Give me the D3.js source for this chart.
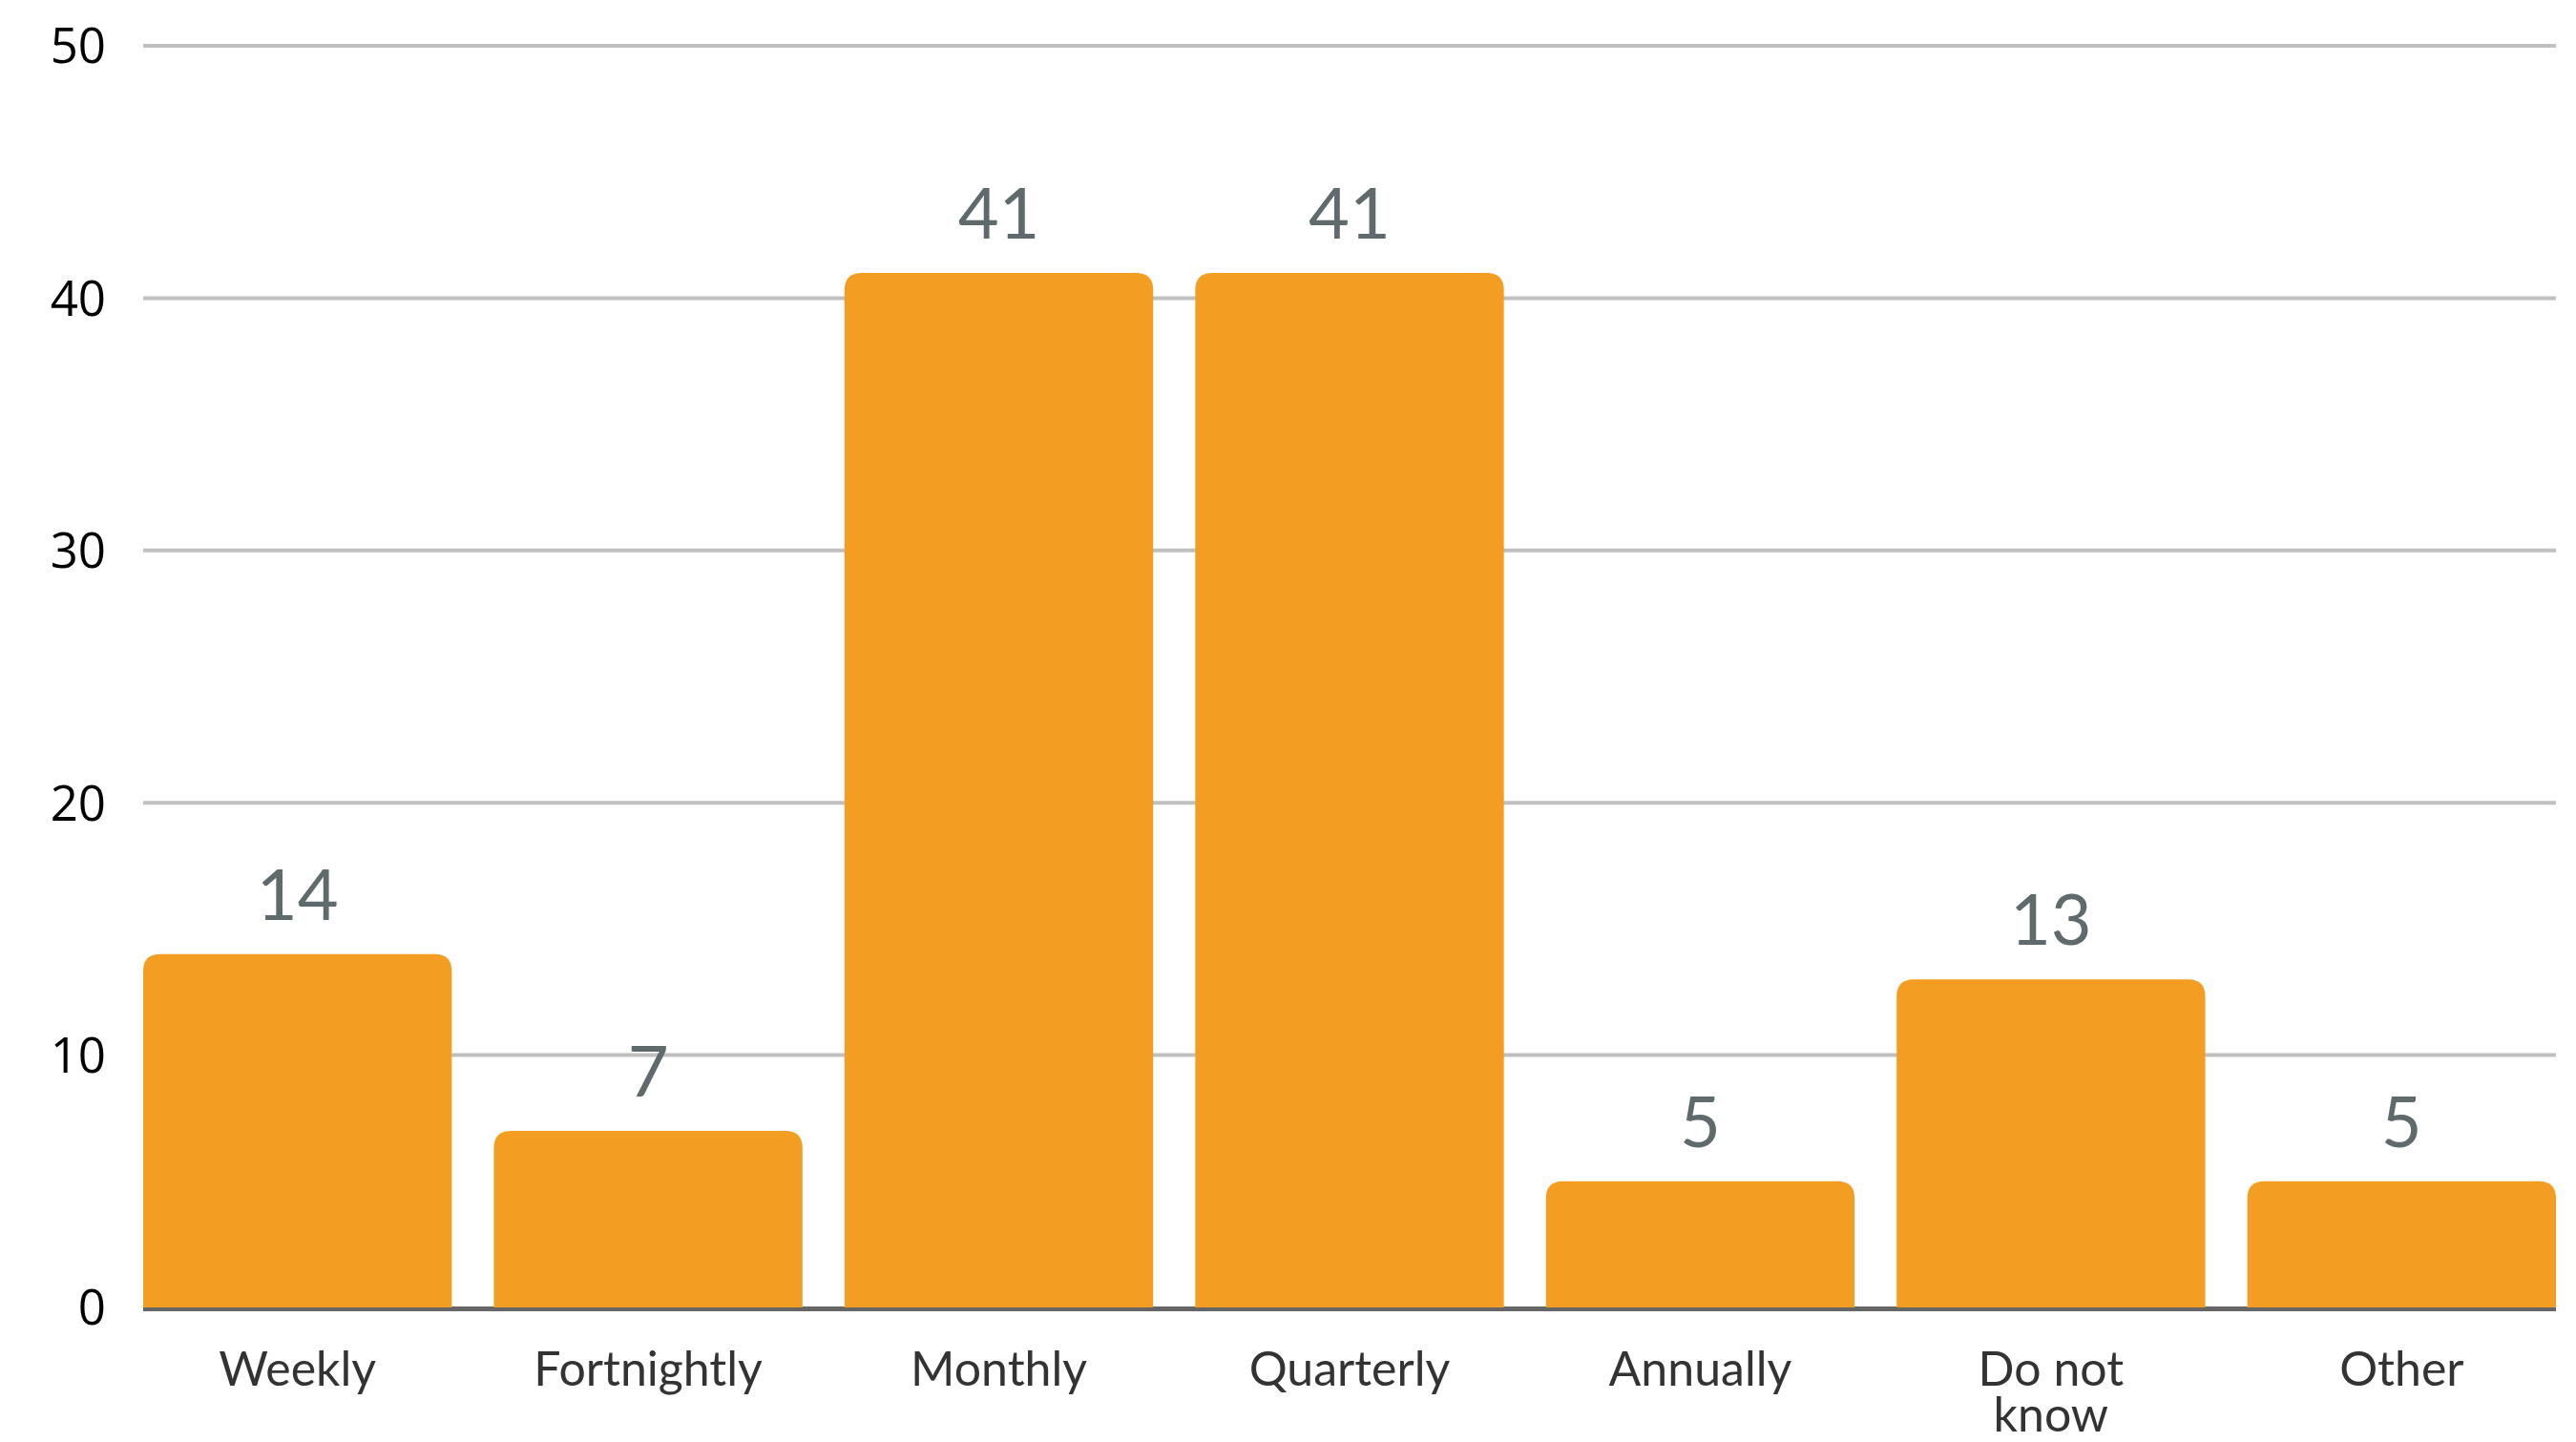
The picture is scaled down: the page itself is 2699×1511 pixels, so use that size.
<!DOCTYPE html>
<html>
<head>
<meta charset="utf-8">
<script src="https://cdn.jsdelivr.net/npm/d3@7"></script>
<style>
  html, body { margin: 0; padding: 0; background: #fff; }
  svg { display: block; }
</style>
</head>
<body>
<svg id="chart" width="2699" height="1511"></svg>
<script>
const categories = ["Weekly", "Fortnightly", "Monthly", "Quarterly", "Annually", "Do not know", "Other"];
const values = [14, 7, 41, 41, 5, 13, 5];
const yTicks = [0, 10, 20, 30, 40, 50];

const W = 2699, H = 1511;
const margin = { top: 48, right: 21, bottom: 141, left: 150 };
const svg = d3.select("#chart");

const x = d3.scaleBand()
  .domain(categories)
  .range([margin.left, W - margin.right])
  .paddingInner(0.12)
  .paddingOuter(0);

const y = d3.scaleLinear()
  .domain([0, 50])
  .range([H - margin.bottom, margin.top]);

// gridlines
svg.append("g")
  .selectAll("line")
  .data(yTicks.filter(d => d > 0))
  .join("line")
  .attr("x1", margin.left)
  .attr("x2", W - margin.right)
  .attr("y1", d => y(d))
  .attr("y2", d => y(d))
  .attr("stroke", "#c0c0c0")
  .attr("stroke-width", 4);

// y tick labels
svg.append("g")
  .selectAll("text")
  .data(yTicks)
  .join("text")
  .attr("x", 111)
  .attr("y", d => y(d))
  .attr("dy", "0.36em")
  .attr("text-anchor", "end")
  .attr("font-family", "'Open Sans', 'Noto Sans', sans-serif")
  .attr("font-size", 51)
  .attr("fill", "#000")
  .text(d => d);

// baseline
svg.append("line")
  .attr("x1", margin.left)
  .attr("x2", W - margin.right)
  .attr("y1", y(0) + 1.5)
  .attr("y2", y(0) + 1.5)
  .attr("stroke", "#666666")
  .attr("stroke-width", 5);

// bars with rounded top corners
const r = 18;
function barPath(d, i) {
  const x0 = x(categories[i]);
  const w = x.bandwidth();
  const yt = y(d);
  const yb = y(0);
  const rr = Math.min(r, (yb - yt), w / 2);
  return `M${x0},${yb}V${yt + rr}Q${x0},${yt} ${x0 + rr},${yt}H${x0 + w - rr}Q${x0 + w},${yt} ${x0 + w},${yt + rr}V${yb}Z`;
}
svg.append("g")
  .selectAll("path")
  .data(values)
  .join("path")
  .attr("d", (d, i) => barPath(d, i))
  .attr("fill", "#f39e23");

// value labels
svg.append("g")
  .selectAll("text")
  .data(values)
  .join("text")
  .attr("x", (d, i) => x(categories[i]) + x.bandwidth() / 2)
  .attr("y", d => y(d) - 36)
  .attr("text-anchor", "middle")
  .attr("font-family", "Lato, sans-serif")
  .attr("font-size", 74)
  .attr("fill", "#5f6a6c")
  .text(d => d);

// category labels (wrapped)
const catG = svg.append("g");
categories.forEach((c, i) => {
  const words = c.split(" ");
  const lines = words.length > 2 ? [words.slice(0, 2).join(" "), words.slice(2).join(" ")] : [c];
  const t = catG.append("text")
    .attr("x", x(c) + x.bandwidth() / 2)
    .attr("y", 1452)
    .attr("text-anchor", "middle")
    .attr("font-family", "Lato, sans-serif")
    .attr("font-size", 50)
    .attr("fill", "#333333");
  lines.forEach((l, j) => {
    t.append("tspan")
      .attr("x", x(c) + x.bandwidth() / 2)
      .attr("dy", j === 0 ? 0 : 48)
      .text(l);
  });
});
</script>
</body>
</html>
